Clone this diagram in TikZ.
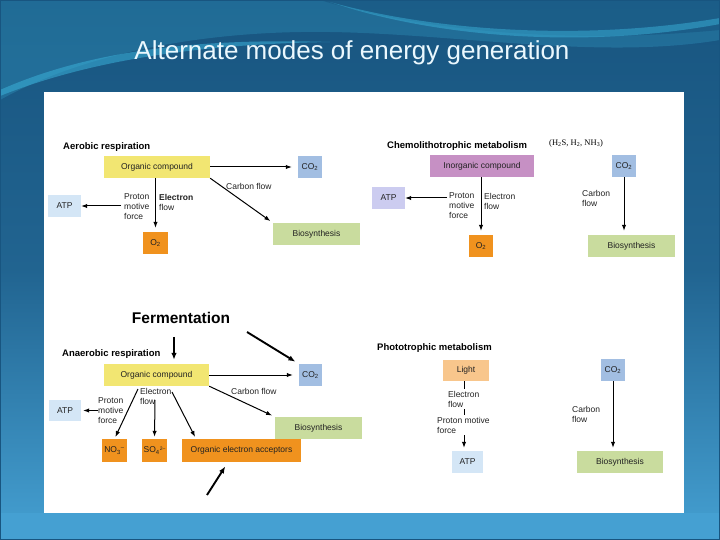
\documentclass[tikz,border=0pt]{standalone}
\usepackage{fontspec}
\setmainfont{Liberation Sans}
\newfontfamily\serifx{Liberation Serif}
\usetikzlibrary{arrows.meta,calc}
\definecolor{bgdark}{HTML}{185580}
\definecolor{bglight}{HTML}{45A0D2}
\colorlet{bgmid}{bgdark!80!bglight}
\definecolor{swoosh}{HTML}{3AB0D8}
\definecolor{yel}{HTML}{F2E672}
\definecolor{cob}{HTML}{A2BEE2}
\definecolor{grn}{HTML}{C9DC9E}
\definecolor{org}{HTML}{F0921E}
\definecolor{atpb}{HTML}{D4E6F6}
\definecolor{atpl}{HTML}{CCCCF0}
\definecolor{mauve}{HTML}{C690C4}
\definecolor{lightc}{HTML}{F8C68C}
\definecolor{txt}{HTML}{222222}
\newcommand{\labf}{\fontsize{8.5}{10}\selectfont}
\newcommand{\headf}{\fontsize{9.5}{11}\selectfont\bfseries}
\tikzset{
  box/.style={inner sep=0pt, minimum height=22pt, font=\labf, text=txt},
  lab/.style={inner sep=0pt, anchor=west, align=left, font=\labf, text=txt},
  head/.style={inner sep=0pt, anchor=west, font=\headf, text=black},
  arr/.style={-{Latex[length=6pt,width=4.4pt]}, line width=1pt, black},
  bigarr/.style={-{Latex[length=7pt,width=5.5pt]}, line width=1.9pt, black},
}
\begin{document}
\begin{tikzpicture}[x=1pt,y=-1pt]
\useasboundingbox (0,0) rectangle (720,540);
% background
\shade[top color=bgdark, bottom color=bglight, middle color=bgmid] (0,0) rectangle (720,540);
\fill[swoosh, opacity=0.25] (0,100) .. controls (80,55) and (200,30) .. (330,32) .. controls (460,34) and (600,60) .. (720,40) -- (720,0) -- (0,0) -- cycle;
\fill[bgdark, opacity=0.6] (320,0) .. controls (420,30) and (560,45) .. (720,30) -- (720,0) -- cycle;
\fill[swoosh, opacity=0.55] (0,90) .. controls (90,50) and (200,38) .. (330,42) .. controls (200,44) and (90,60) .. (0,96) -- cycle;
\fill[swoosh, opacity=0.5] (330,2) .. controls (430,30) and (580,42) .. (720,18) -- (720,24) .. controls (580,50) and (430,36) .. (330,2) -- cycle;
\fill[bglight] (0,513) rectangle (720,540);
\draw[bgdark, line width=1pt] (0.5,0.5) rectangle (719.5,539.5);
% white panel
\fill[white] (44,92) rectangle (684,513);
% title
\node[text=white!92!cyan, font=\fontsize{26}{30}\selectfont, inner sep=0pt] (title) at (352,53) {Alternate modes of energy generation};

% ---------- Aerobic respiration ----------
\node[head] (h1) at (63,147) {Aerobic respiration};
\node[box, fill=yel, minimum width=106pt] (oc1) at (157,167) {Organic compound};
\node[box, fill=cob, minimum width=24pt] (co1) at (310,167) {CO\textsubscript{2}};
\node[box, fill=grn, minimum width=87pt] (bio1) at (316.5,234) {Biosynthesis};
\node[box, fill=org, minimum width=25pt] (o21) at (155.5,243) {O\textsubscript{2}};
\node[box, fill=atpb, minimum width=33pt] (atp1) at (64.5,206) {ATP};
\node[lab] (pmf1) at (124,207) {Proton\\motive\\force};
\node[lab] (ef1) at (159,202) {\textbf{Electron}\\flow};
\node[lab] (cf1) at (226,186) {Carbon flow};
\draw[arr, shorten >=6pt] (oc1.east) -- (co1.west);
\draw[arr, shorten >=3pt] (oc1.south east) -- (bio1.north west);
\draw[arr, shorten >=4pt] (oc1.south -| o21.north) -- (o21.north);
\draw[arr, shorten <=3pt] (pmf1.west |- atp1.east) -- (atp1.east);

% ---------- Chemolithotrophic ----------
\node[head] (h2) at (387,146) {Chemolithotrophic metabolism};
\node[inner sep=0pt, anchor=west, font=\serifx\fontsize{8.5}{10}\selectfont] (hx) at (549,143) {(H\textsubscript{2}S, H\textsubscript{2}, NH\textsubscript{3})};
\node[box, fill=mauve, minimum width=104pt] (ic2) at (482,166) {Inorganic compound};
\node[box, fill=cob, minimum width=24pt] (co2) at (624,166) {CO\textsubscript{2}};
\node[box, fill=org, minimum width=24pt] (o22) at (481,246) {O\textsubscript{2}};
\node[box, fill=atpl, minimum width=33pt] (atp2) at (388.5,198) {ATP};
\node[box, fill=grn, minimum width=87pt] (bio2) at (631.5,246) {Biosynthesis};
\node[lab] (pmf2) at (449,206) {Proton\\motive\\force};
\node[lab] (ef2) at (484,201) {Electron\\flow};
\node[lab] (cf2) at (582,198) {Carbon\\flow};
\draw[arr, shorten >=4pt] (ic2.south -| o22.north) -- (o22.north);
\draw[arr, shorten <=2pt] (pmf2.west |- atp2.east) -- (atp2.east);
\draw[arr, shorten >=4pt] (co2.south) -- (bio2.north -| co2.south);

% ---------- Anaerobic respiration ----------
\node[inner sep=0pt, font=\fontsize{15.5}{18}\selectfont\bfseries] (ferm) at (181,318) {Fermentation};
\node[head] (h3) at (62,354) {Anaerobic respiration};
\node[box, fill=yel, minimum width=105pt] (oc3) at (156.5,375) {Organic compound};
\node[box, fill=cob, minimum width=23pt] (co3) at (310.5,375) {CO\textsubscript{2}};
\node[box, fill=grn, minimum width=87pt] (bio3) at (318.5,428) {Biosynthesis};
\node[box, fill=atpb, minimum width=32pt, minimum height=21pt] (atp3) at (65,410.5) {ATP};
\node[box, fill=org, minimum width=25pt, minimum height=23pt] (no3) at (114.5,450.5) {NO\textsubscript{3}\textsuperscript{--}};
\node[box, fill=org, minimum width=25pt, minimum height=23pt] (so4) at (154.5,450.5) {SO\textsubscript{4}{\fontsize{5}{5}\selectfont\raisebox{0.9ex}{2--}}};
\node[box, fill=org, minimum width=119pt, minimum height=23pt] (oea) at (241.5,450.5) {Organic electron acceptors};
\node[lab] (ef3) at (140,396.5) {Electron\\flow};
\node[lab] (pmf3) at (98,411) {Proton\\motive\\force};
\node[lab] (cf3) at (231,391) {Carbon flow};
\coordinate (e3a) at (138,389);
\coordinate (e3b) at (155,400);
\coordinate (e3c) at (172,392);
\coordinate (f2) at (247,332);
\coordinate (f3) at (207,495);
\draw[arr, shorten >=6pt] (oc3.east) -- (co3.west);
\draw[arr, shorten >=3pt] (oc3.south east) -- (bio3.north west);
\draw[arr, shorten >=2pt] (pmf3.west |- atp3.east) -- (atp3.east);
\draw[arr, shorten >=2pt] (e3a) -- (no3.north);
\draw[arr, shorten >=2pt] (e3b) -- (so4.north);
\draw[arr, shorten >=2pt] (e3c) -- (oea.north west -| 196,0);
\draw[bigarr, shorten <=13pt, shorten >=4pt] (ferm.south -| 174,0) -- (oc3.north -| 174,0);
\draw[bigarr, shorten >=4pt] (f2) -- (co3.north west);
\draw[bigarr, shorten >=5pt] (f3) -- (oea.south -| 228,0);

% ---------- Phototrophic ----------
\node[head] (h4) at (377,348) {Phototrophic metabolism};
\node[box, fill=lightc, minimum width=46pt, minimum height=21pt] (light) at (466,370.5) {Light};
\node[box, fill=atpb, minimum width=31pt] (atp4) at (467.5,462) {ATP};
\node[box, fill=cob, minimum width=24pt] (co4) at (613,370) {CO\textsubscript{2}};
\node[box, fill=grn, minimum width=86pt] (bio4) at (620,462) {Biosynthesis};
\draw[arr, shorten >=3pt] (light.south -| 464,0) -- (atp4.north -| 464,0);
\node[lab, fill=white, inner ysep=2pt] (ef4) at (448,399) {Electron\\flow};
\node[lab, fill=white, inner ysep=2pt] (pmf4) at (437,425) {Proton motive\\force};
\node[lab] (cf4) at (572,414) {Carbon\\flow};
\draw[arr, shorten >=3pt] (co4.south) -- (bio4.north -| co4.south);
\end{tikzpicture}
\end{document}
